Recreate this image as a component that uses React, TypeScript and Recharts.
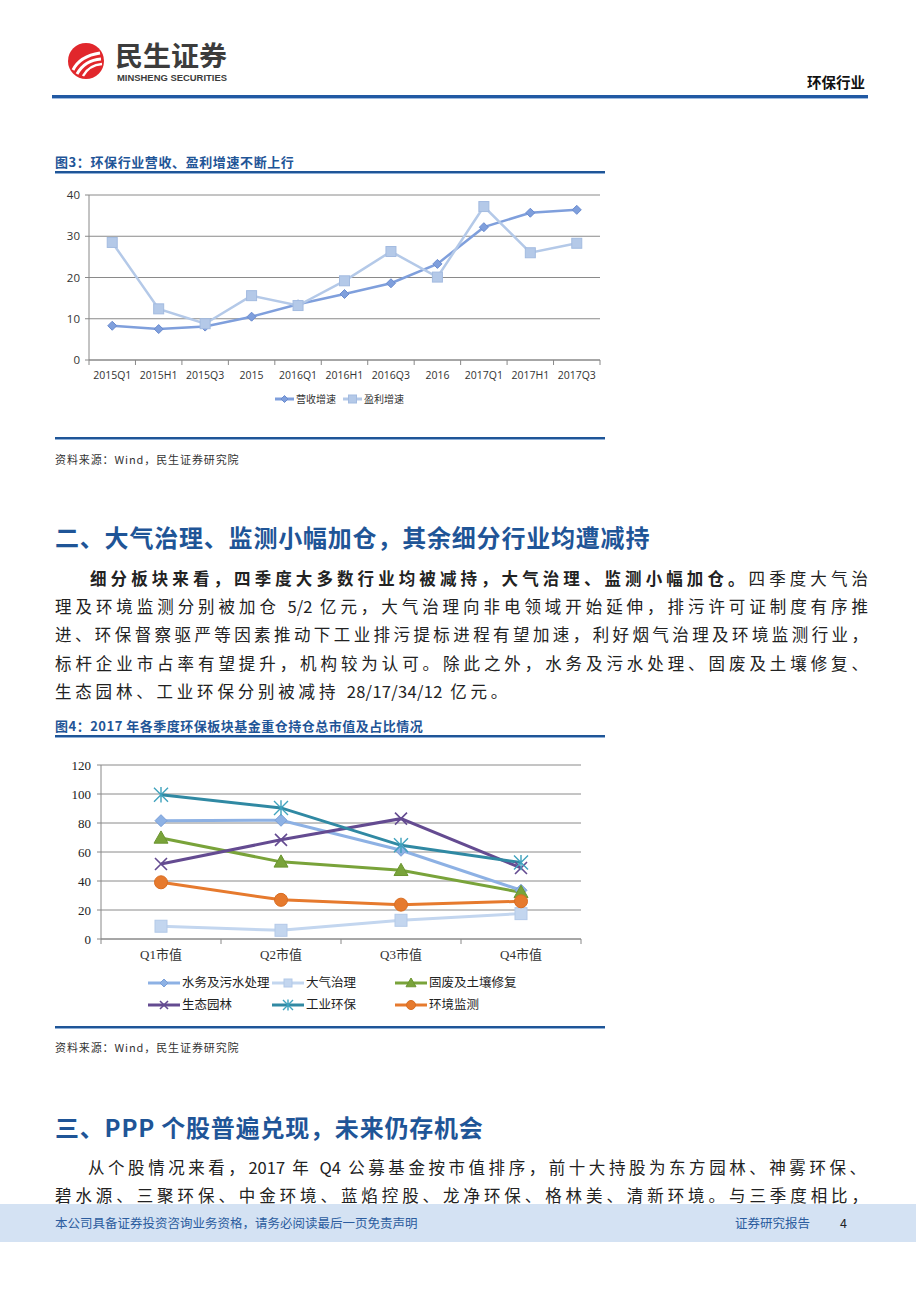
import React from "react"
import { LineChart, Line, XAxis, YAxis, CartesianGrid } from "recharts"

// 图3 data
const growthPeriods = ["2015Q1", "2015H1", "2015Q3", "2015", "2016Q1", "2016H1", "2016Q3", "2016", "2017Q1", "2017H1", "2017Q3"]
const revenueGrowth = [8.3, 7.5, 8.1, 10.5, 13.5, 16.0, 18.6, 23.3, 32.2, 35.7, 36.4]
const profitGrowth = [28.5, 12.4, 8.8, 15.6, 13.2, 19.2, 26.3, 20.1, 37.2, 26.0, 28.3]
const growthTicks = [0, 10, 20, 30, 40]

// 图4 data
const quarters = ["Q1市值", "Q2市值", "Q3市值", "Q4市值"]
const waterValues = [81.6, 81.9, 61.2, 33.6]
const airValues = [8.8, 6.0, 12.9, 17.5]
const solidWasteValues = [69.7, 53.2, 47.4, 32.2]
const gardenValues = [51.7, 68.4, 83.0, 49.0]
const industryValues = [99.5, 90.4, 64.6, 52.7]
const monitorValues = [39.1, 27.0, 23.7, 26.0]
const holdingTicks = [0, 20, 40, 60, 80, 100, 120]

const growthData = growthPeriods.map((p, i) => ({ period: p, revenue: revenueGrowth[i], profit: profitGrowth[i] }))
const holdingData = quarters.map((q, i) => ({
  quarter: q,
  water: waterValues[i],
  air: airValues[i],
  solid: solidWasteValues[i],
  garden: gardenValues[i],
  industry: industryValues[i],
  monitor: monitorValues[i],
}))

const growthSeries = [
  { key: "revenue", name: "营收增速", color: "#7f9fdc", edge: "#6a8bcf", shape: "diamond", size: 4.5 },
  { key: "profit", name: "盈利增速", color: "#b4c9e8", edge: "#a3bbe0", shape: "square", size: 5 },
]

const holdingSeries = [
  { key: "water", name: "水务及污水处理", color: "#8db1e4", edge: "#7a9fd8", shape: "diamond", size: 6 },
  { key: "air", name: "大气治理", color: "#c3d6ef", edge: "#b3c9e8", shape: "square", size: 6 },
  { key: "solid", name: "固废及土壤修复", color: "#79a33a", edge: "#6b9530", shape: "triangle", size: 7 },
  { key: "garden", name: "生态园林", color: "#644b91", edge: "#644b91", shape: "cross", size: 6 },
  { key: "industry", name: "工业环保", color: "#3089a3", edge: "#3fa2bd", shape: "star", size: 7 },
  { key: "monitor", name: "环境监测", color: "#e67a2e", edge: "#d96d22", shape: "circle", size: 6.5 },
]

const CJK = '"Noto Sans CJK SC", "Noto Sans", sans-serif'
const SERIF = '"Liberation Serif", "DejaVu Serif", "Noto Sans CJK SC", serif'
const BLUE = "#1f5597"

function Marker(props: any) {
  const { cx, cy, shape, color, edge, size: s } = props
  if (cx == null || cy == null) return null
  if (shape === "diamond")
    return <path d={`M${cx} ${cy - s}L${cx + s} ${cy}L${cx} ${cy + s}L${cx - s} ${cy}Z`} fill={color} stroke={edge} strokeWidth={1} />
  if (shape === "square")
    return <rect x={cx - s} y={cy - s} width={s * 2} height={s * 2} fill={color} stroke={edge} strokeWidth={1} />
  if (shape === "triangle")
    return <path d={`M${cx} ${cy - s}L${cx + s} ${cy + s * 0.75}L${cx - s} ${cy + s * 0.75}Z`} fill={color} stroke={edge} strokeWidth={1} />
  if (shape === "circle") return <circle cx={cx} cy={cy} r={s} fill={color} stroke={edge} strokeWidth={1} />
  if (shape === "cross")
    return (
      <path d={`M${cx - s} ${cy - s}L${cx + s} ${cy + s}M${cx - s} ${cy + s}L${cx + s} ${cy - s}`} stroke={edge} strokeWidth={1.6} fill="none" />
    )
  // star / asterisk
  return (
    <path
      d={`M${cx - s} ${cy - s}L${cx + s} ${cy + s}M${cx - s} ${cy + s}L${cx + s} ${cy - s}M${cx} ${cy - s * 1.1}L${cx} ${cy + s * 1.1}`}
      stroke={edge}
      strokeWidth={1.4}
      fill="none"
    />
  )
}

// category tick with Excel-style boundary tick marks
function BandTick(props: any) {
  const { x, y, payload, index, visibleTicksCount, fontFamily, fontSize, dy } = props
  const half = payload.offset || 0
  const left = x - half
  return (
    <g>
      <line x1={left} x2={left} y1={y} y2={y + 5} stroke="#888" />
      {index === visibleTicksCount - 1 && <line x1={x + half} x2={x + half} y1={y} y2={y + 5} stroke="#888" />}
      <text x={x} y={y + dy} textAnchor="middle" dominantBaseline="central" fill="#333" fontSize={fontSize} fontFamily={fontFamily}>
        {payload.value}
      </text>
    </g>
  )
}

function LegendLine({ color, edge, shape, size, width }: any) {
  const mid = width / 2
  return (
    <svg width={width} height={14} style={{ display: "block" }}>
      <line x1={0} x2={width} y1={7} y2={7} stroke={color} strokeWidth={3} />
      <Marker cx={mid} cy={7} shape={shape} color={color} edge={edge} size={size} />
    </svg>
  )
}

function Logo() {
  return (
    <div style={{ position: "absolute", left: 64, top: 36 }}>
      <svg width={175} height={52}>
        <circle cx={22} cy={25} r={18} fill="#e1272c" />
        <path d="M9 34 Q16 20 36 17" stroke="#fff" strokeWidth={3} fill="none" />
        <path d="M13 38 Q21 24 37 23" stroke="#fff" strokeWidth={3} fill="none" />
        <path d="M19 40 Q25 29 38 28" stroke="#fff" strokeWidth={2.5} fill="none" />
        <text x={51} y={30} fontFamily={CJK} fontWeight={700} fontSize={27} fill="#3c3c3c" textLength={112} lengthAdjust="spacingAndGlyphs">
          民生证券
        </text>
        <text x={53} y={45} fontFamily='"Liberation Sans", Arial, sans-serif' fontWeight={700} fontSize={9.5} fill="#3c3c3c" textLength={110} lengthAdjust="spacingAndGlyphs">
          MINSHENG SECURITIES
        </text>
      </svg>
    </div>
  )
}

const para1 = [
  "理及环境监测分别被加仓 5/2 亿元，大气治理向非电领域开始延伸，排污许可证制度有序推",
  "进、环保督察驱严等因素推动下工业排污提标进程有望加速，利好烟气治理及环境监测行业，",
  "标杆企业市占率有望提升，机构较为认可。除此之外，水务及污水处理、固废及土壤修复、",
]

const bodyStyle: React.CSSProperties = {
  position: "absolute",
  fontFamily: CJK,
  fontSize: 16.5,
  lineHeight: "20px",
  color: "#222",
  whiteSpace: "nowrap",
}

function Justified({ left, right, cy, children }: any) {
  return (
    <div style={{ ...bodyStyle, left, top: cy - 10, width: right - left, textAlign: "justify", textAlignLast: "justify", whiteSpace: "normal" }}>
      {children}
    </div>
  )
}

function Rule({ top, left = 55, width = 550 }: any) {
  return <div style={{ position: "absolute", left, top, width, height: 2, background: "#1f5597", borderBottom: "1px solid #8fb0d8" }} />
}

export default function App() {
  const plot1W = 511
  const plot2W = 480
  return (
    <div style={{ position: "absolute", left: 0, top: 0, width: 920, height: 1302, background: "#fff", overflow: "hidden", fontFamily: CJK }}>
      <Logo />
      <div style={{ position: "absolute", left: 807, top: 73, fontSize: 14.5, fontWeight: 700, color: "#111", fontFamily: CJK, lineHeight: "18px" }}>
        环保行业
      </div>
      <div style={{ position: "absolute", left: 52, top: 95, width: 816, height: 3, background: "#2159a3", borderBottom: "1px solid #9fbbe0" }} />

      {/* 图3 */}
      <div style={{ position: "absolute", left: 55, top: 153, fontSize: 13, fontWeight: 700, color: BLUE, letterSpacing: 0.6, lineHeight: "18px" }}>
        图3：环保行业营收、盈利增速不断上行
      </div>
      <Rule top={171} />
      <div style={{ position: "absolute", left: 0, top: 180 }}>
        <LineChart width={640} height={210} data={growthData} margin={{ top: 15, right: 640 - 89 - plot1W, bottom: 10, left: 49 }}>
          <CartesianGrid vertical={false} stroke="#8a8a8a" strokeWidth={1} />
          <XAxis
            dataKey="period"
            scale="band"
            height={20}
            tickSize={0}
            tickMargin={0}
            interval={0}
            axisLine={{ stroke: "#888" }}
            tick={<BandTick fontFamily='"Open Sans", "Noto Sans", sans-serif' fontSize={10.5} dy={15} />}
          />
          <YAxis
            width={40}
            domain={[0, 40]}
            ticks={growthTicks}
            tickSize={4}
            tickMargin={5}
            axisLine={{ stroke: "#888" }}
            tickLine={{ stroke: "#888" }}
            tick={{ fill: "#333", fontSize: 11.5, fontFamily: '"Open Sans", "Noto Sans", sans-serif' }}
          />
          {growthSeries.map((s) => (
            <Line
              key={s.key}
              dataKey={s.key}
              name={s.name}
              type="linear"
              stroke={s.color}
              strokeWidth={2.5}
              isAnimationActive={false}
              dot={(p: any) => <Marker key={`${s.key}-${p.index}`} cx={p.cx} cy={p.cy} shape={s.shape} color={s.color} edge={s.edge} size={s.size} />}
            />
          ))}
        </LineChart>
      </div>
      {growthSeries.map((s, i) => (
        <div key={s.key} style={{ position: "absolute", left: i === 0 ? 275 : 343, top: 392, display: "flex", alignItems: "center", gap: 2 }}>
          <LegendLine {...s} size={s.size - 1} width={19} />
          <span style={{ fontSize: 10, color: "#333", lineHeight: "14px" }}>{s.name}</span>
        </div>
      ))}
      <Rule top={437} />
      <div style={{ position: "absolute", left: 55, top: 451, fontSize: 11, color: "#333", letterSpacing: 0.9, lineHeight: "16px" }}>
        资料来源：Wind，民生证券研究院
      </div>

      {/* 二 */}
      <div style={{ position: "absolute", left: 55, top: 522, fontSize: 24, fontWeight: 700, color: BLUE, letterSpacing: 0.8, lineHeight: "30px", whiteSpace: "nowrap" }}>
        二、大气治理、监测小幅加仓，其余细分行业均遭减持
      </div>
      <Justified left={90} right={868} cy={578}>
        <b>细分板块来看，四季度大多数行业均被减持，大气治理、监测小幅加仓。</b>四季度大气治
      </Justified>
      {para1.map((t, i) => (
        <Justified key={i} left={55} right={868} cy={606 + i * 28.3}>
          {t}
        </Justified>
      ))}
      <div style={{ ...bodyStyle, left: 55, top: 691 - 10, letterSpacing: 3.8 }}>
        生态园林、工业环保分别被减持 <span style={{ letterSpacing: 0.3 }}>28/17/34/12</span> 亿元。
      </div>

      {/* 图4 */}
      <div style={{ position: "absolute", left: 55, top: 717, fontSize: 13, fontWeight: 700, color: BLUE, letterSpacing: 0.5, lineHeight: "18px", whiteSpace: "nowrap" }}>
        图4：2017 年各季度环保板块基金重仓持仓总市值及占比情况
      </div>
      <Rule top={735} />
      <div style={{ position: "absolute", left: 0, top: 750 }}>
        <LineChart width={620} height={220} data={holdingData} margin={{ top: 15, right: 620 - 101 - plot2W, bottom: 10, left: 56 }}>
          <CartesianGrid vertical={false} stroke="#8a8a8a" strokeWidth={1} />
          <XAxis
            dataKey="quarter"
            scale="band"
            height={21}
            tickSize={0}
            tickMargin={0}
            interval={0}
            axisLine={{ stroke: "#888" }}
            tick={<BandTick fontFamily={SERIF} fontSize={13} dy={15} />}
          />
          <YAxis
            width={45}
            domain={[0, 120]}
            ticks={holdingTicks}
            tickSize={4}
            tickMargin={6}
            axisLine={{ stroke: "#888" }}
            tickLine={{ stroke: "#888" }}
            tick={{ fill: "#222", fontSize: 13, fontFamily: SERIF }}
          />
          {holdingSeries.map((s) => (
            <Line
              key={s.key}
              dataKey={s.key}
              name={s.name}
              type="linear"
              stroke={s.color}
              strokeWidth={3}
              isAnimationActive={false}
              dot={(p: any) => <Marker key={`${s.key}-${p.index}`} cx={p.cx} cy={p.cy} shape={s.shape} color={s.color} edge={s.edge} size={s.size} />}
            />
          ))}
        </LineChart>
      </div>
      {holdingSeries.map((s, i) => (
        <div
          key={s.key}
          style={{ position: "absolute", left: [148, 272, 395][i % 3], top: i < 3 ? 976 : 998, display: "flex", alignItems: "center", gap: 2 }}
        >
          <LegendLine {...s} size={s.size - 2} width={32} />
          <span style={{ fontSize: 12.5, color: "#222", lineHeight: "14px", fontFamily: SERIF }}>{s.name}</span>
        </div>
      ))}
      <Rule top={1026} />
      <div style={{ position: "absolute", left: 55, top: 1039, fontSize: 11, color: "#333", letterSpacing: 0.9, lineHeight: "16px" }}>
        资料来源：Wind，民生证券研究院
      </div>

      {/* 三 */}
      <div style={{ position: "absolute", left: 55, top: 1112, fontSize: 24, fontWeight: 700, color: BLUE, letterSpacing: 0.8, lineHeight: "30px", whiteSpace: "nowrap" }}>
        三、PPP 个股普遍兑现，未来仍存机会
      </div>
      <Justified left={88} right={866} cy={1167}>
        从个股情况来看，2017 年 Q4 公募基金按市值排序，前十大持股为东方园林、神雾环保、
      </Justified>
      <Justified left={55} right={868} cy={1195}>
        碧水源、三聚环保、中金环境、蓝焰控股、龙净环保、格林美、清新环境。与三季度相比，
      </Justified>

      {/* footer */}
      <div style={{ position: "absolute", left: 0, top: 1204, width: 916, height: 38, background: "#d4e2f3" }} />
      <div style={{ position: "absolute", left: 55, top: 1215, fontSize: 12.5, color: "#2b5c9e", lineHeight: "16px", whiteSpace: "nowrap" }}>
        本公司具备证券投资咨询业务资格，请务必阅读最后一页免责声明
      </div>
      <div style={{ position: "absolute", left: 735, top: 1215, fontSize: 12.5, color: "#2b5c9e", lineHeight: "16px" }}>证券研究报告</div>
      <div style={{ position: "absolute", left: 840, top: 1215, fontSize: 12.5, color: "#222", lineHeight: "16px" }}>4</div>
    </div>
  )
}
